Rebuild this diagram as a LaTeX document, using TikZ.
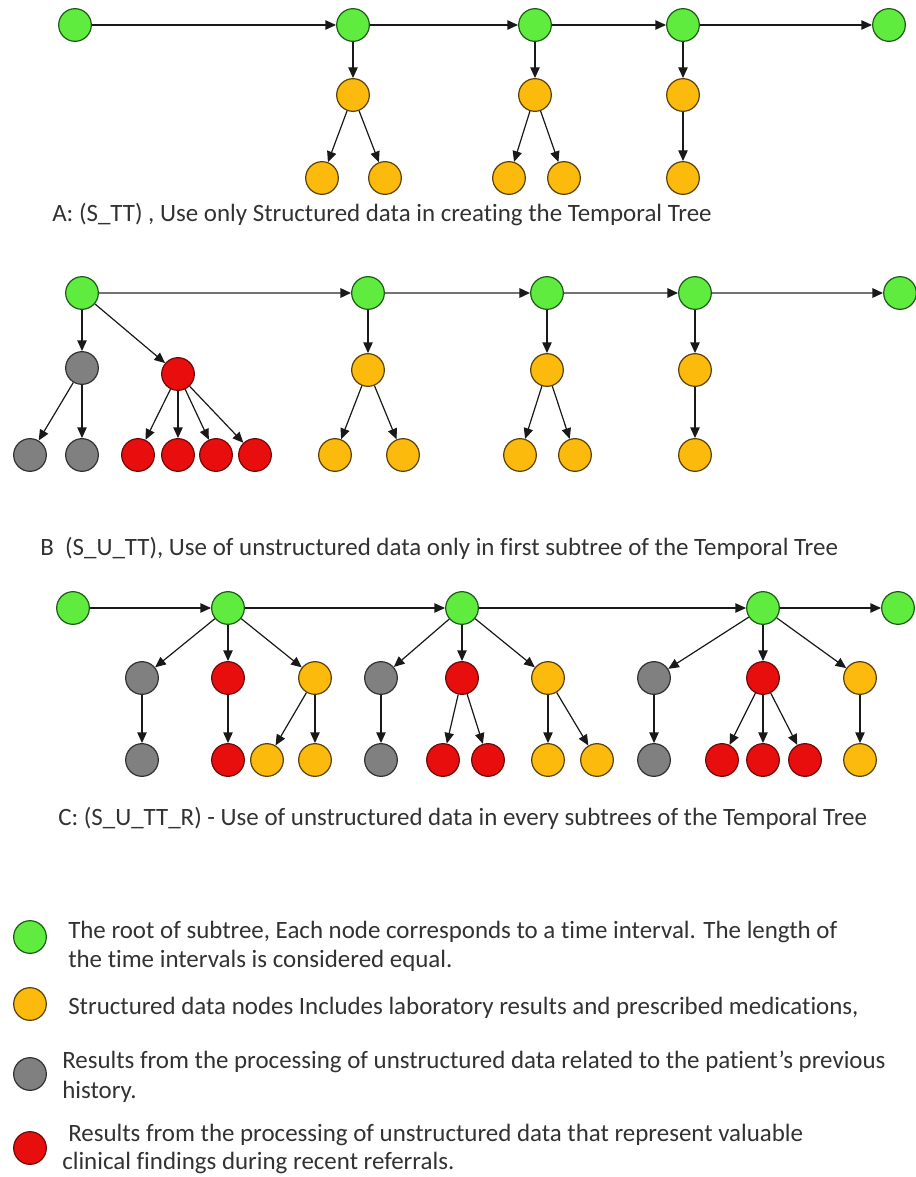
\documentclass[tikz,border=0pt]{standalone}
\usepackage{fontspec}
\setmainfont{Carlito}[Ligatures=NoCommon]
\usetikzlibrary{arrows.meta}
\definecolor{gfill}{RGB}{95,236,62}
\definecolor{gline}{RGB}{30,90,25}
\definecolor{ofill}{RGB}{251,186,12}
\definecolor{oline}{RGB}{90,65,10}
\definecolor{kfill}{RGB}{128,128,128}
\definecolor{kline}{RGB}{50,50,50}
\definecolor{rfill}{RGB}{232,14,14}
\definecolor{rline}{RGB}{110,10,10}
\definecolor{edgec}{RGB}{25,25,25}
\definecolor{txtc}{RGB}{50,50,50}
\begin{document}
\begin{tikzpicture}[x=0.75pt,y=-0.75pt,
  nd/.style={circle,draw,line width=0.9pt,minimum size=24.5pt,inner sep=0pt},
  gn/.style={nd,fill=gfill,draw=gline},
  on/.style={nd,fill=ofill,draw=oline},
  kn/.style={nd,fill=kfill,draw=kline},
  rn/.style={nd,fill=rfill,draw=rline},
  ar/.style={draw=edgec,line width=0.9pt,-{Triangle[length=8pt,width=7pt]}},
  arh/.style={draw=black!55,line width=1.6pt,-{Triangle[length=8pt,width=7pt,color=edgec,fill=edgec]}},
  lbl/.style={anchor=west,text=txtc,inner sep=0pt,font=\fontsize{18.7}{22}\selectfont}]
\useasboundingbox (0,0) rectangle (915,1177);
\fill[white] (0,0) rectangle (915,1177);

% ---------- A ----------
\node[gn] (a1) at (75,25) {};
\node[gn] (a2) at (353,25) {};
\node[gn] (a3) at (535,25) {};
\node[gn] (a4) at (683,25) {};
\node[gn] (a5) at (889,25) {};
\node[on] (a2o) at (353,95) {};
\node[on] (a2l) at (322,178) {};
\node[on] (a2r) at (385,178) {};
\node[on] (a3o) at (535,95) {};
\node[on] (a3l) at (509,178) {};
\node[on] (a3r) at (564,178) {};
\node[on] (a4o) at (683,95) {};
\node[on] (a4b) at (683,178) {};
\draw[ar] (a1) -- (a2);
\draw[ar] (a2) -- (a3);
\draw[ar] (a3) -- (a4);
\draw[ar] (a4) -- (a5);
\draw[ar] (a2) -- (a2o);
\draw[ar] (a2o) -- (a2l);
\draw[ar] (a2o) -- (a2r);
\draw[ar] (a3) -- (a3o);
\draw[ar] (a3o) -- (a3l);
\draw[ar] (a3o) -- (a3r);
\draw[ar] (a4) -- (a4o);
\draw[ar] (a4o) -- (a4b);
\node[lbl] (capA) at (52,215) {A: (S\_TT) , Use only Structured data in creating the Temporal Tree};

% ---------- B ----------
\node[gn] (b1) at (82,293) {};
\node[gn] (b2) at (368,293) {};
\node[gn] (b3) at (547,293) {};
\node[gn] (b4) at (695,293) {};
\node[gn] (b5) at (900,293) {};
\node[kn] (b1k) at (82,368) {};
\node[rn] (b1r) at (178,374) {};
\node[kn] (b1k1) at (30,455) {};
\node[kn] (b1k2) at (82,455) {};
\node[rn] (b1r1) at (138,455) {};
\node[rn] (b1r2) at (178,455) {};
\node[rn] (b1r3) at (216,455) {};
\node[rn] (b1r4) at (255,455) {};
\node[on] (b2o) at (368,370) {};
\node[on] (b2l) at (335,455) {};
\node[on] (b2r) at (403,455) {};
\node[on] (b3o) at (547,370) {};
\node[on] (b3l) at (520,455) {};
\node[on] (b3r) at (575,455) {};
\node[on] (b4o) at (695,370) {};
\node[on] (b4b) at (695,455) {};
\draw[arh] (b1) -- (b2);
\draw[arh] (b2) -- (b3);
\draw[arh] (b3) -- (b4);
\draw[arh] (b4) -- (b5);
\draw[ar] (b1) -- (b1k);
\draw[ar] (b1) -- (b1r);
\draw[ar] (b1k) -- (b1k1);
\draw[ar] (b1k) -- (b1k2);
\draw[ar] (b1r) -- (b1r1);
\draw[ar] (b1r) -- (b1r2);
\draw[ar] (b1r) -- (b1r3);
\draw[ar] (b1r) -- (b1r4);
\draw[ar] (b2) -- (b2o);
\draw[ar] (b2o) -- (b2l);
\draw[ar] (b2o) -- (b2r);
\draw[ar] (b3) -- (b3o);
\draw[ar] (b3o) -- (b3l);
\draw[ar] (b3o) -- (b3r);
\draw[ar] (b4) -- (b4o);
\draw[ar] (b4o) -- (b4b);
\node[lbl] (capB) at (40,548) {B\ \ (S\_U\_TT), Use of unstructured data only in first subtree of the Temporal Tree};

% ---------- C ----------
\node[gn] (c1) at (73,608) {};
\node[gn] (c2) at (228,608) {};
\node[gn] (c3) at (462,608) {};
\node[gn] (c4) at (763,608) {};
\node[gn] (c5) at (898,608) {};
\node[kn] (c2k) at (142,678) {};
\node[rn] (c2r) at (228,678) {};
\node[on] (c2o) at (315,678) {};
\node[kn] (c2k1) at (142,760) {};
\node[rn] (c2r1) at (228,760) {};
\node[on] (c2o1) at (267,760) {};
\node[on] (c2o2) at (315,760) {};
\node[kn] (c3k) at (381,678) {};
\node[rn] (c3r) at (462,678) {};
\node[on] (c3o) at (548,678) {};
\node[kn] (c3k1) at (381,760) {};
\node[rn] (c3r1) at (443,760) {};
\node[rn] (c3r2) at (488,760) {};
\node[on] (c3o1) at (548,760) {};
\node[on] (c3o2) at (597,760) {};
\node[kn] (c4k) at (654,678) {};
\node[rn] (c4r) at (763,678) {};
\node[on] (c4o) at (860,678) {};
\node[kn] (c4k1) at (654,760) {};
\node[rn] (c4r1) at (722,760) {};
\node[rn] (c4r2) at (763,760) {};
\node[rn] (c4r3) at (805,760) {};
\node[on] (c4o1) at (860,760) {};
\draw[ar] (c1) -- (c2);
\draw[ar] (c2) -- (c3);
\draw[ar] (c3) -- (c4);
\draw[ar] (c4) -- (c5);
\draw[ar] (c2) -- (c2k);
\draw[ar] (c2) -- (c2r);
\draw[ar] (c2) -- (c2o);
\draw[ar] (c2k) -- (c2k1);
\draw[ar] (c2r) -- (c2r1);
\draw[ar] (c2o) -- (c2o1);
\draw[ar] (c2o) -- (c2o2);
\draw[ar] (c3) -- (c3k);
\draw[ar] (c3) -- (c3r);
\draw[ar] (c3) -- (c3o);
\draw[ar] (c3k) -- (c3k1);
\draw[ar] (c3r) -- (c3r1);
\draw[ar] (c3r) -- (c3r2);
\draw[ar] (c3o) -- (c3o1);
\draw[ar] (c3o) -- (c3o2);
\draw[ar] (c4) -- (c4k);
\draw[ar] (c4) -- (c4r);
\draw[ar] (c4) -- (c4o);
\draw[ar] (c4k) -- (c4k1);
\draw[ar] (c4r) -- (c4r1);
\draw[ar] (c4r) -- (c4r2);
\draw[ar] (c4r) -- (c4r3);
\draw[ar] (c4o) -- (c4o1);
\node[lbl] (capC) at (58,818) {C: (S\_U\_TT\_R) - Use of unstructured data in every subtrees of the Temporal Tree};

% ---------- Legend ----------
\node[gn] (lg) at (30,937) {};
\node[on] (lo) at (30,1004) {};
\node[kn] (lk) at (30,1074) {};
\node[rn] (lr) at (30,1148) {};
\node[lbl] (lg1) at (68,932) {The root of subtree, Each node corresponds to a time interval. The length of};
\node[lbl] (lg2) at (68,961) {the time intervals is considered equal.};
\node[lbl] (lo1) at (68,1008) {Structured data nodes Includes laboratory results and prescribed medications,};
\node[lbl] (lk1) at (62,1062) {Results from the processing of unstructured data related to the patient's previous};
\node[lbl] (lk2) at (62,1092) {history.};
\node[lbl] (lr1) at (68,1135) {Results from the processing of unstructured data that represent valuable};
\node[lbl] (lr2) at (62,1163) {clinical findings during recent referrals.};
\end{tikzpicture}
\end{document}
